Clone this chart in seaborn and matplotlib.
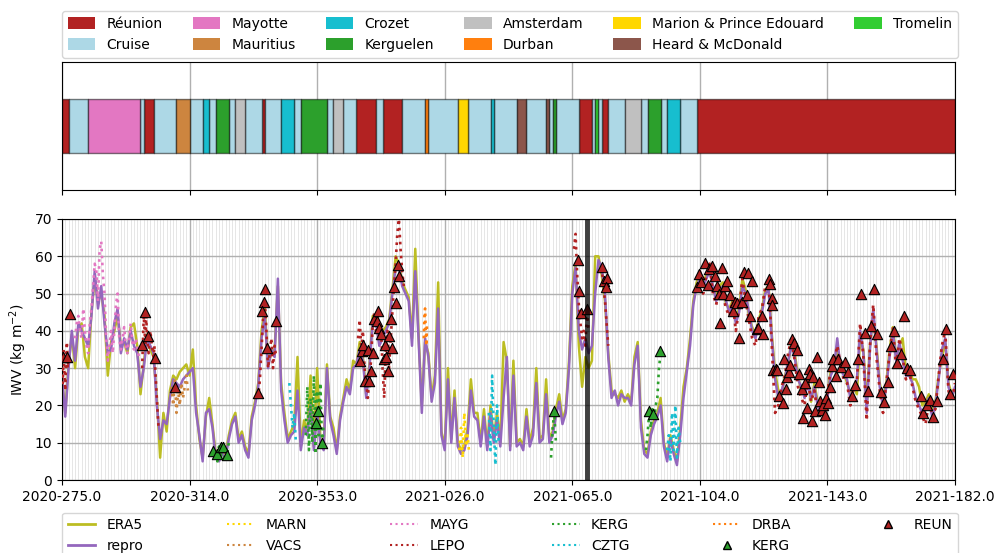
import numpy as np
import pandas as pd
import matplotlib
matplotlib.use("Agg")
import matplotlib.pyplot as plt
import seaborn as sns
from matplotlib.lines import Line2D
from matplotlib.patches import Patch
from matplotlib.ticker import MultipleLocator

# x axis: days since 2020-275
tick_days = [0, 39, 78, 117, 156, 195, 234, 273]
tick_labels = ["2020-275.0", "2020-314.0", "2020-353.0", "2021-026.0",
               "2021-065.0", "2021-104.0", "2021-143.0", "2021-182.0"]
gap_day = 160.4

# ship location strip
seg_start = [0, 2, 8, 24, 25, 28, 35, 39, 43, 45, 47, 51, 53, 56, 61, 62, 67, 71, 73, 81,
             83, 86, 90, 96, 98, 104, 111, 112, 121, 124, 131, 132, 139, 142, 148, 149, 150,
             151, 158, 162, 163, 164, 165, 167, 172, 177, 179, 183, 185, 189, 194]
seg_end = seg_start[1:] + [273]
seg_place = ["Réunion", "Cruise", "Mayotte", "Cruise", "Réunion", "Cruise", "Mauritius",
             "Cruise", "Crozet", "Cruise", "Kerguelen", "Cruise", "Amsterdam", "Cruise",
             "Réunion", "Cruise", "Crozet", "Cruise", "Kerguelen", "Cruise", "Amsterdam",
             "Cruise", "Réunion", "Cruise", "Réunion", "Cruise", "Durban", "Cruise",
             "Marion & Prince Edouard", "Cruise", "Crozet", "Cruise", "Heard & McDonald",
             "Cruise", "Heard & McDonald", "Cruise", "Kerguelen", "Cruise", "Réunion",
             "Cruise", "Tromelin", "Cruise", "Réunion", "Cruise", "Amsterdam", "Cruise",
             "Kerguelen", "Cruise", "Crozet", "Cruise", "Réunion"]

places = ["Réunion", "Cruise", "Mayotte", "Mauritius", "Crozet", "Kerguelen",
          "Amsterdam", "Durban", "Marion & Prince Edouard", "Heard & McDonald", "Tromelin"]
place_colors = ["firebrick", "lightblue", "tab:pink", "peru", "tab:cyan", "tab:green",
                "silver", "tab:orange", "gold", "tab:brown", "limegreen"]

# daily IWV (kg m-2)
repro = [28, 17, 30, 40, 32, 42, 40, 38, 36, 44, 56, 46, 52, 42, 34, 35, 42, 46, 34, 38,
         35, 40, 36, 34, 25, 30, 38, 36, 34, 20, 11, 16, 15, 22, 27, 26, 25, 27, 28, 29,
         30, 18, 12, 5, 18, 19, 14, 6, 5, 7, 6, 11, 15, 17, 10, 12, 8, 6, 16, 20,
         25, 38, 44, 30, 35, 33, 54, 24, 16, 10, 12, 13, 24, 8, 14, 12, 20, 8, 18, 10,
         8, 30, 16, 12, 7, 16, 21, 25, 23, 30, 31, 35, 32, 22, 30, 43, 42, 36, 38, 40,
         42, 50, 57, 57, 52, 50, 48, 36, 56, 38, 18, 38, 33, 21, 26, 46, 12, 8, 27, 10,
         22, 9, 7, 8, 12, 24, 17, 16, 9, 17, 8, 18, 10, 16, 9, 22, 33, 8, 28, 9,
         10, 8, 17, 9, 12, 26, 10, 11, 23, 10, 12, 17, 21, 15, 18, 30, 50, 57, 40, 35,
         38, 34, 36, 50, 59, 57, 50, 33, 22, 24, 20, 23, 22, 22, 20, 31, 36, 14, 7, 6,
         12, 15, 17, 20, 9, 5, 11, 7, 4, 12, 22, 29, 36, 47, 52, 54, 52, 54, 56, 52,
         48, 50, 52, 48, 45, 47, 42, 45, 52, 50, 45, 40, 38, 42, 45, 50, 51, 38, 27, 22,
         24, 27, 32, 36, 33, 27, 25, 22, 26, 22, 25, 20, 18, 20, 22, 28, 30, 38, 30, 28,
         27, 22, 24, 27, 40, 34, 18, 35, 46, 35, 25, 20, 25, 33, 40, 32, 37, 32, 28, 28,
         26, 22, 20, 18, 20, 22, 17, 20, 27, 35, 38, 25, 22, 25]
era5 = [27, 18, 31, 39, 30, 41, 42, 33, 30, 45, 54, 48, 50, 44, 28, 37, 40, 44, 36, 37,
        34, 41, 42, 36, 23, 31, 39, 35, 33, 22, 6, 18, 13, 24, 28, 27, 29, 30, 31, 28,
        35, 20, 11, 6, 17, 22, 15, 7, 6, 8, 7, 12, 16, 18, 11, 13, 9, 7, 17, 21,
        26, 40, 46, 31, 34, 35, 52, 26, 18, 11, 13, 15, 33, 9, 16, 13, 28, 9, 30, 11,
        9, 31, 17, 14, 8, 17, 22, 27, 24, 32, 31, 37, 33, 23, 31, 44, 43, 37, 40, 41,
        43, 51, 60, 58, 53, 51, 49, 38, 62, 39, 20, 37, 34, 22, 28, 53, 13, 9, 30, 11,
        24, 10, 8, 9, 14, 27, 18, 18, 10, 19, 9, 20, 11, 18, 10, 37, 32, 9, 32, 10,
        11, 9, 19, 10, 14, 30, 11, 12, 27, 11, 13, 19, 23, 16, 19, 32, 52, 58, 36, 25,
        33, 30, 32, 60, 60, 55, 48, 34, 24, 23, 22, 24, 21, 23, 21, 33, 37, 16, 8, 7,
        13, 16, 18, 22, 10, 6, 12, 8, 5, 14, 25, 30, 38, 48, 53, 55, 53, 55, 57, 51,
        49, 52, 53, 47, 46, 48, 43, 46, 54, 51, 44, 41, 39, 43, 46, 51, 52, 39, 29, 24,
        23, 28, 31, 37, 34, 28, 24, 23, 27, 21, 26, 21, 19, 21, 23, 29, 31, 35, 31, 29,
        26, 23, 25, 23, 38, 35, 20, 36, 44, 36, 26, 21, 26, 35, 41, 33, 36, 38, 29, 30,
        27, 27, 25, 20, 21, 23, 18, 21, 28, 33, 37, 26, 23, 24]

# GNSS stations: segments of (day, IWV)
mayg = [[(4, 38), (4.5, 42), (5, 44), (5.5, 40), (6, 38), (6.5, 46), (7, 40), (7.5, 36),
         (8, 34), (8.5, 42), (9, 46), (9.5, 52), (10, 58), (10.5, 56), (11, 48), (11.5, 62),
         (12, 64), (12.5, 55), (13, 50), (13.5, 38), (14, 32), (14.5, 36), (15, 40),
         (15.5, 34), (16, 40), (16.5, 47), (17, 50), (17.5, 38), (18, 35), (18.5, 38),
         (19, 41), (19.5, 36), (20, 34), (20.5, 38), (21, 42), (21.5, 37), (22, 35),
         (22.5, 38), (23, 36), (23.5, 33)]]
lepo = [[(0, 30), (0.25, 26), (0.5, 35), (0.75, 28), (1, 24), (1.25, 32), (1.5, 37),
         (1.75, 30), (2, 33)],
        [(24.5, 30), (25, 44), (25.25, 40), (25.5, 36), (25.75, 44), (26, 38), (26.5, 34),
         (27, 40), (27.5, 36), (28, 33), (28.25, 36), (28.5, 30), (29, 22), (29.5, 14)],
        [(60, 22), (60.5, 27), (61, 35), (61.5, 44), (62, 48), (62.5, 40), (63, 30),
         (63.5, 34), (64, 38), (64.5, 30), (65, 36), (65.5, 33)],
        [(90.5, 38), (91, 43), (91.5, 35), (92, 40), (92.5, 30), (93, 26), (93.5, 22),
         (94, 28), (94.5, 32), (95, 42), (95.5, 45), (96, 40), (96.5, 44), (97, 38),
         (97.5, 42), (98, 30), (98.5, 22), (99, 35), (99.5, 40), (100, 30), (100.5, 38),
         (101, 45), (101.5, 52), (102, 58), (102.5, 66), (103, 70), (103.5, 62),
         (104, 56), (104.5, 52)],
        [(156.5, 62), (157, 66), (157.5, 55), (158, 47), (158.5, 42), (159, 38),
         (159.5, 40), (160, 36), (160.5, 45), (161, 40)],
        [(165, 57), (165.5, 52), (166, 48), (166.5, 42), (167, 36)]]
lepo_long_start = 194
lepo_long = [54, 56, 50, 55, 58, 50, 47, 52, 50, 46, 44, 48, 40, 46, 54, 48, 43, 38, 36, 44,
             46, 52, 54, 36, 18, 20, 25, 28, 34, 38, 32, 25, 22, 20, 27, 21, 24, 18, 17, 21,
             23, 30, 31, 36, 31, 27, 26, 20, 25, 26, 42, 33, 16, 36, 47, 33, 24, 18, 26, 34,
             41, 30, 38, 33, 27, 29, 25, 21, 19, 17, 15, 21, 18, 19, 28, 36, 40, 24, 21, 26]
vacs = [[(33.5, 25), (34, 20), (34.5, 27), (35, 18), (35.5, 24), (36, 20), (36.5, 26),
         (37, 22), (37.5, 25), (38, 28), (38.5, 24)]]
kerg = [[(47, 7), (47.5, 5), (48, 9), (48.5, 6), (49, 8), (49.5, 5), (50, 9), (50.5, 7), (51, 10)],
        [(74.5, 12), (75, 25), (75.5, 8), (76, 22), (76.5, 10), (77, 28), (77.5, 7), (78, 24),
         (78.5, 12), (79, 26), (79.5, 9), (80, 15)],
        [(149.5, 6), (150, 14), (150.5, 18), (151, 10)],
        [(178.5, 8), (179, 12), (179.5, 18), (180, 14), (180.5, 19), (181, 16), (181.5, 20),
         (182, 22), (182.5, 30), (183, 34)]]
cztg = [[(69.5, 26), (70, 20), (70.5, 14), (71, 18), (71.5, 10)],
        [(130.5, 18), (131, 8), (131.5, 28), (132, 14), (132.5, 4), (133, 20), (133.5, 10)],
        [(185, 8), (185.5, 12), (186, 5), (186.5, 18), (187, 8), (187.5, 20), (188, 6),
         (188.5, 14), (189, 10)]]
drba = [[(110.6, 38), (110.8, 44), (111, 46), (111.2, 40), (111.4, 36), (111.6, 42)]]
marn = [[(121.5, 8), (122, 14), (122.5, 6), (123, 18), (123.5, 9), (124, 12), (124.5, 7)]]

# radiosondes
reun_day = [0.4, 1.4, 2.4, 24.4, 25.4, 26.4, 28.4, 34.5, 59.8, 62.1, 61.7, 61.1, 62.6, 65.4,
            91.1, 91.6, 91.9, 92.7, 93.5, 94.0, 94.5, 95.0, 95.5, 96.2, 96.5, 96.9, 97.5,
            98.3, 98.6, 99.1, 99.6, 100.1, 100.6, 101.0, 101.6, 102.1, 102.6, 103.1,
            157.7, 158.2, 158.7, 160.6, 165.2, 165.8, 166.5, 166.2,
            194.1, 194.8, 195.3, 196.6, 197.4, 197.8, 198.6, 199.7, 200.2, 201.2, 200.9,
            201.7, 202.2, 202.7, 203.4, 204.2, 205.0, 205.6, 206.3, 207.1, 207.8, 208.6,
            209.6, 209.3, 210.2, 210.9, 212.4, 212.9, 213.9, 214.4, 216.0, 216.5, 217.2,
            217.0, 217.5, 218.2, 218.6, 219.3, 220.3, 220.7, 221.3, 221.7, 222.2, 222.7,
            223.3, 223.7, 224.6, 225.4, 226.1, 226.6, 227.1, 227.8, 228.3, 228.8, 229.3,
            229.7, 230.2, 230.7, 231.3, 231.7, 232.2, 232.7, 233.2, 233.7, 234.2, 234.7,
            235.4, 235.8, 236.5, 237.3, 238.1, 239.3, 240.4, 241.4, 242.4, 243.4, 244.2,
            245.5, 246.3, 247.3, 248.3, 249.2, 250.3, 251.4, 252.4, 253.3, 254.3, 255.3,
            256.4, 257.4, 258.2, 259.2, 262.5, 263.3, 264.3, 265.3, 266.4, 267.4, 269.2,
            270.2, 271.4, 272.3]
reun_iwv = [32.9, 32.9, 44.5, 36.3, 45.0, 38.7, 32.7, 24.9, 23.3, 51.2, 47.7, 45.2, 35.5, 42.7,
            31.8, 34.5, 36.1, 26.6, 34.9, 26.6, 29.1, 34.0, 43.2, 42.7, 45.2, 40.7, 39.2,
            32.5, 36.3, 33.1, 29.3, 38.5, 43.2, 35.4, 51.7, 47.4, 57.7, 54.6,
            58.9, 50.8, 44.8, 45.8, 57.1, 53.5, 54.2, 51.7,
            51.7, 55.2, 53.0, 58.2, 52.4, 56.6, 57.3, 54.6, 52.1, 42.1, 50.0,
            56.8, 50.0, 51.9, 53.5, 49.5, 45.4, 47.7, 47.4, 38.0, 47.7, 55.8,
            55.5, 49.7, 44.1, 53.4, 40.6, 40.7, 43.9, 39.1, 54.0, 52.6, 48.8,
            47.0, 29.5, 29.8, 29.5, 22.6, 20.6, 32.5, 24.4, 27.5, 28.9, 30.9,
            37.9, 36.7, 34.9, 28.4, 24.4, 16.6, 26.0, 19.4, 29.7, 28.5, 15.7,
            27.5, 18.5, 32.9, 26.4, 21.2, 18.8, 20.1, 17.5, 22.1, 20.6, 24.9,
            30.7, 32.5, 27.8, 32.5, 30.2, 31.6, 28.9, 22.6, 25.5, 32.5, 50.0,
            39.4, 24.0, 41.2, 51.2, 39.1, 23.5, 20.8, 26.2, 36.0, 40.0, 31.5,
            33.8, 43.9, 30.0, 29.4, 22.4, 18.1, 20.1, 21.5, 16.8, 21.3, 32.5,
            40.5, 23.1, 28.4]
kerg_rs_day = [46.3, 47.5, 48.5, 49.3, 50.3, 77.6, 78.4, 79.4, 150.5, 179.5, 180.6, 182.8]
kerg_rs_iwv = [7.9, 7.0, 8.8, 8.8, 6.7, 15.4, 18.6, 10.0, 18.5, 18.4, 17.7, 34.5]


def join_segments(segs):
    xs, ys = [], []
    for seg in segs:
        xs += [p[0] for p in seg] + [np.nan]
        ys += [p[1] for p in seg] + [np.nan]
    return xs, ys


df = pd.DataFrame({"day": np.arange(len(repro)), "ERA5": era5, "repro": repro})

fig = plt.figure(figsize=(9.95, 5.53), dpi=100)
ax_top = fig.add_axes([0.0623, 0.6564, 0.8975, 0.2315])
ax = fig.add_axes([0.0623, 0.132, 0.8975, 0.472])

# --- location strip
color_of = dict(zip(places, place_colors))
for place in places:
    spans = [(s, e - s) for s, e, p in zip(seg_start, seg_end, seg_place) if p == place]
    ax_top.broken_barh(spans, (0.29, 0.42), facecolors=color_of[place],
                       edgecolor=(0, 0, 0, 0.5), linewidth=1)
ax_top.set_xlim(0, 273)
ax_top.set_ylim(0, 1)
ax_top.set_xticks(tick_days)
ax_top.set_xticklabels([])
ax_top.set_yticks([])
ax_top.set_axisbelow(True)
ax_top.grid(axis="x", color="#b0b0b0", lw=1)
ax_top.legend(handles=[Patch(facecolor=c, label=p) for p, c in zip(places, place_colors)],
              loc="lower left", bbox_to_anchor=(0, 1.035, 1.003, 0), mode="expand",
              ncol=6, handleheight=1.0, borderaxespad=0)

# --- IWV time series
sns.lineplot(data=df, x="day", y="ERA5", color="tab:olive", linewidth=1.8, ax=ax, legend=False)
sns.lineplot(data=df, x="day", y="repro", color="tab:purple", linewidth=1.8, ax=ax, legend=False)

stations = [("MARN", marn, "gold"), ("VACS", vacs, "peru"), ("MAYG", mayg, "tab:pink"),
            ("LEPO", lepo, "firebrick"), ("KERG", kerg, "tab:green"),
            ("CZTG", cztg, "tab:cyan"), ("DRBA", drba, "tab:orange")]
for name, segs, c in stations:
    xs, ys = join_segments(segs)
    ax.plot(xs, ys, ls=":", color=c, lw=1.9, zorder=3)
ax.plot(np.arange(lepo_long_start, lepo_long_start + len(lepo_long)), lepo_long,
        ls=":", color="firebrick", lw=2.0, zorder=3)

sns.scatterplot(x=kerg_rs_day, y=kerg_rs_iwv, marker="^", s=55, color="tab:green",
                edgecolor="k", linewidth=0.8, zorder=5, ax=ax, legend=False)
sns.scatterplot(x=reun_day, y=reun_iwv, marker="^", s=55, color="firebrick",
                edgecolor="k", linewidth=0.8, zorder=5, ax=ax, legend=False)

ax.axvline(gap_day, color="k", lw=3.5, alpha=0.75, zorder=6)

ax.set_xlim(0, 273)
ax.set_ylim(0, 70)
ax.set_xticks(tick_days)
ax.set_xticklabels(tick_labels)
ax.xaxis.set_minor_locator(MultipleLocator(1))
ax.tick_params(axis="x", which="minor", length=0)
ax.grid(which="major", color="#b0b0b0", lw=1)
ax.grid(which="minor", axis="x", color="#dcdcdc", lw=0.5)
ax.set_xlabel("")
ax.set_ylabel("IWV (kg m$^{-2}$)")

handles = [Line2D([], [], color="tab:olive", lw=2, label="ERA5"),
           Line2D([], [], color="tab:purple", lw=2, label="repro")]
handles += [Line2D([], [], color=c, ls=":", lw=1.5, label=n) for n, _, c in stations]
handles += [Line2D([], [], marker="^", color="tab:green", mec="k", ls="none", ms=6, label="KERG"),
            Line2D([], [], marker="^", color="firebrick", mec="k", ls="none", ms=6, label="REUN")]
ax.legend(handles=handles, loc="upper left", bbox_to_anchor=(0, -0.125, 1.003, 0),
          mode="expand", ncol=6, borderaxespad=0)

fig.savefig("out.png", dpi=100)
